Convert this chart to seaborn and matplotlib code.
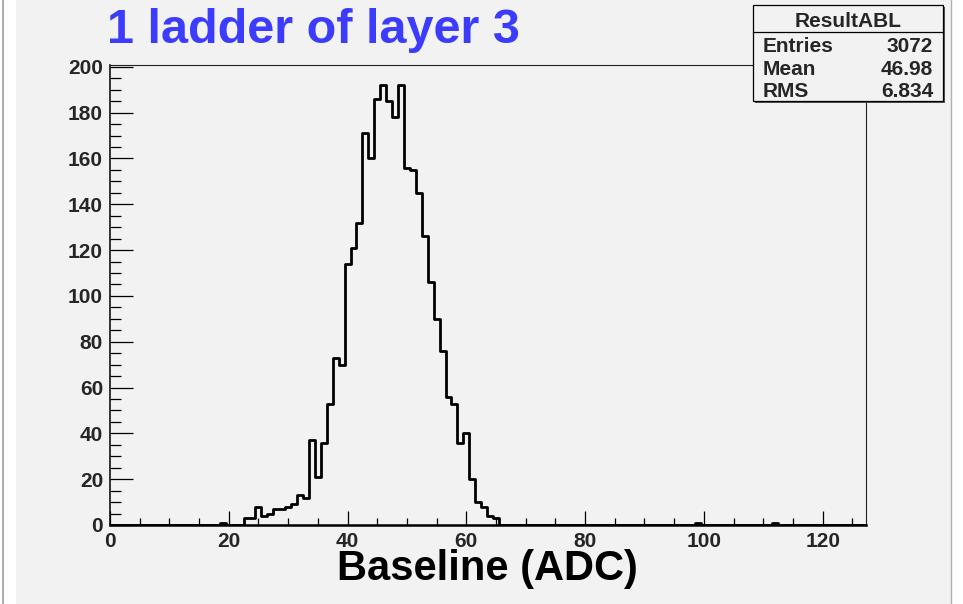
import numpy as np
import pandas as pd
import matplotlib
matplotlib.use("Agg")
import matplotlib.pyplot as plt
from matplotlib.ticker import MultipleLocator
from matplotlib.patches import Rectangle
from matplotlib.lines import Line2D
import seaborn as sns

# ---------------- data ----------------
title_text = "1 ladder of layer 3"
x_label = "Baseline (ADC)"
stats_name = "ResultABL"
stats_labels = ["Entries", "Mean", "RMS"]
stats_values = ["3072", "46.98", "6.834"]

baseline_adc = [19, 23, 24, 25, 26, 27, 28, 29, 30, 31, 32, 33, 34, 35, 36,
                37, 38, 39, 40, 41, 42, 43, 44, 45, 46, 47, 48, 49, 50, 51,
                52, 53, 54, 55, 56, 57, 58, 59, 60, 61, 62, 63, 64, 65, 99, 112]
counts = [1, 3, 3, 8, 4, 5, 7, 7, 8, 9, 13, 12, 37, 21, 36,
          53, 73, 70, 114, 121, 132, 171, 160, 186, 192, 185, 178, 192, 156, 155,
          145, 126, 106, 90, 76, 56, 53, 36, 40, 20, 10, 8, 4, 3, 1, 1]

x_ticks = [0, 20, 40, 60, 80, 100, 120]
y_ticks = [0, 20, 40, 60, 80, 100, 120, 140, 160, 180, 200]

# ---------------- style ----------------
sns.set_style("ticks")
plt.rcParams["font.family"] = ["Liberation Sans", "DejaVu Sans"]
plt.rcParams["font.weight"] = "bold"

W, H = 963, 604
CANVAS = "#f2f2f2"
fig = plt.figure(figsize=(W / 100, H / 100), dpi=100, facecolor=CANVAS)


def fx(x):
    return x / W


def fy(y):
    return 1 - y / H


# white margins with thin gray borders (as in the screenshot)
fig.patches.append(Rectangle((0, 0), fx(16), 1, transform=fig.transFigure,
                             facecolor="white", edgecolor="none", zorder=0))
fig.patches.append(Rectangle((fx(951), 0), 1 - fx(951), 1, transform=fig.transFigure,
                             facecolor="white", edgecolor="none", zorder=0))
fig.lines.append(Line2D([fx(3), fx(3)], [0, 1], transform=fig.transFigure,
                        color="#a0a0a0", linewidth=1.2))
fig.lines.append(Line2D([fx(951), fx(951)], [0, 1], transform=fig.transFigure,
                        color="#b0b0b0", linewidth=1.0))

left, right, top, bottom = 110, 866, 65, 525
ax = fig.add_axes([fx(left), fy(bottom), fx(right - left), (bottom - top) / H])
ax.set_facecolor(CANVAS)

df = pd.DataFrame({"baseline": baseline_adc, "count": counts})
sns.histplot(data=df, x="baseline", weights="count",
             binwidth=1.0, binrange=(-0.5, 127.5), element="step", fill=False,
             color="black", linewidth=2.0, ax=ax)

ax.set_xlim(0, 127.3)
ax.set_ylim(0, 200.8)
ax.set_xlabel("")
ax.set_ylabel("")

ax.set_xticks(x_ticks)
ax.set_yticks(y_ticks)
ax.set_xticklabels([str(v) for v in x_ticks])
ax.set_yticklabels([str(v) for v in y_ticks])
ax.xaxis.set_minor_locator(MultipleLocator(5))
ax.yaxis.set_minor_locator(MultipleLocator(5))

ax.tick_params(axis="x", which="major", direction="in", length=10.0, width=0.9,
               color="black", pad=5, labelsize=15)
ax.tick_params(axis="x", which="minor", direction="in", length=5.0, width=0.9,
               color="black")
ax.tick_params(axis="y", which="major", direction="in", length=16.3, width=0.9,
               color="black", pad=5, labelsize=15)
ax.tick_params(axis="y", which="minor", direction="in", length=8.2, width=0.9,
               color="black")
for lab in ax.get_xticklabels() + ax.get_yticklabels():
    lab.set_fontweight("bold")

for side in ["top", "right"]:
    ax.spines[side].set_visible(True)
    ax.spines[side].set_linewidth(0.8)
    ax.spines[side].set_color("#222222")
ax.spines["bottom"].set_linewidth(1.8)
ax.spines["bottom"].set_color("black")
ax.spines["left"].set_linewidth(1.1)
ax.spines["left"].set_color("black")

# axis title and plot title
fig.text(fx(487), fy(580), x_label, ha="center", va="baseline",
         fontsize=30, fontweight="bold", color="black")
fig.text(fx(107), fy(43), title_text, ha="left", va="baseline",
         fontsize=35, fontweight="bold", color="#3c3cff")

# statistics box
bx0, bx1, by0, by1 = 753, 943, 5, 101
fig.patches.append(Rectangle((fx(bx0 + 2), fy(by1 + 2)), fx(bx1 - bx0), (by1 - by0) / H,
                             transform=fig.transFigure, facecolor="#555555",
                             edgecolor="none", zorder=5))
fig.patches.append(Rectangle((fx(bx0), fy(by1)), fx(bx1 - bx0), (by1 - by0) / H,
                             transform=fig.transFigure, facecolor=CANVAS,
                             edgecolor="black", linewidth=0.9, zorder=6))
fig.lines.append(Line2D([fx(bx0), fx(bx1)], [fy(32), fy(32)], transform=fig.transFigure,
                        color="black", linewidth=0.9, zorder=7))
fig.text(fx(848), fy(27), stats_name, ha="center", va="baseline",
         fontsize=15, fontweight="bold", zorder=8)
for i, (lab, val) in enumerate(zip(stats_labels, stats_values)):
    yb = [51.5, 75, 97][i]
    fig.text(fx(763), fy(yb), lab, ha="left", va="baseline",
             fontsize=15, fontweight="bold", zorder=8)
    fig.text(fx(933), fy(yb), val, ha="right", va="baseline",
             fontsize=15, fontweight="bold", zorder=8)

fig.savefig("out.png", dpi=100, facecolor=fig.get_facecolor())
